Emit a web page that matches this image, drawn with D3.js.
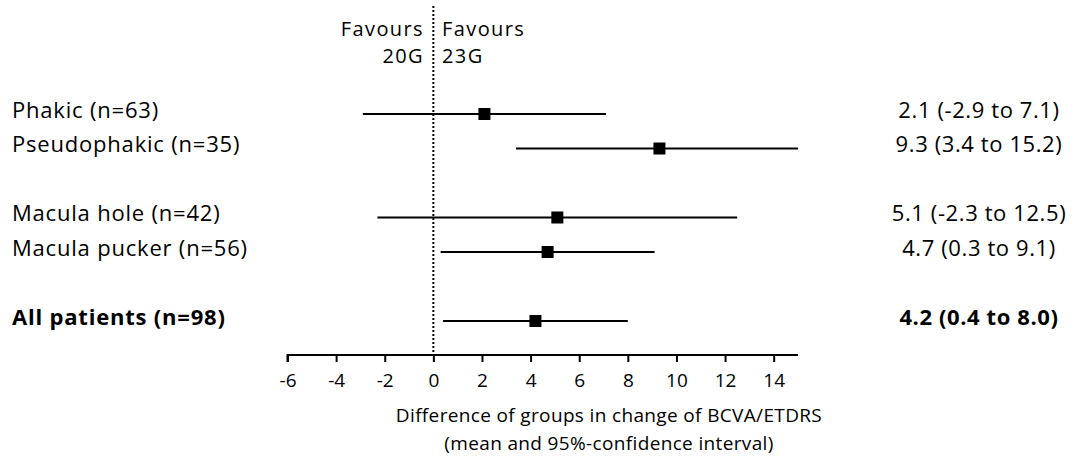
<!DOCTYPE html>
<html><head><meta charset="utf-8">
<script src="https://cdn.jsdelivr.net/npm/d3@7"></script>
<style>body{margin:0;background:#fff;} text{font-family:"Open Sans",sans-serif;fill:#000;}</style>
</head><body><svg id="c" width="1073" height="461"></svg>
<script>
const labels = ["Phakic (n=63)","Pseudophakic (n=35)","Macula hole (n=42)","Macula pucker (n=56)","All patients (n=98)"];
const rowIndex = [0,1,3,4,6];
const means = [2.1,9.3,5.1,4.7,4.2];
const lows = [-2.9,3.4,-2.3,0.3,0.4];
const highs = [7.1,15.2,12.5,9.1,8.0];
const bold = [false,false,false,false,true];
const tickValues = [-6,-4,-2,0,2,4,6,8,10,12,14];
const xTitle = ["Difference of groups in change of BCVA/ETDRS","(mean and 95%-confidence interval)"];
const leftHeader = ["Favours","20G"];
const rightHeader = ["Favours","23G"];

const svg = d3.select("#c");
const x = d3.scaleLinear().domain([-6,15]).range([287.5,798]);
const y = d3.scaleLinear().domain([0,6]).range([114,321]);
const axisY = 355;

// dotted zero line
svg.append("line").attr("x1",x(0)).attr("x2",x(0)).attr("y1",6).attr("y2",axisY)
  .attr("stroke","#000").attr("stroke-width",2).attr("stroke-dasharray","2,2");

// axis
const axis = d3.axisBottom(x).tickValues(tickValues).tickSize(7).tickPadding(12).tickFormat(d3.format("d"));
const g = svg.append("g").attr("transform",`translate(0,${axisY})`).call(axis);
g.select(".domain").attr("stroke","#000").attr("stroke-width",2).attr("d",`M${x(-6)},7V0H${x(15)}`);
g.selectAll(".tick line").attr("stroke","#000").attr("stroke-width",2);
g.selectAll(".tick text").style("font-family","'Open Sans',sans-serif").style("font-size","19px").attr("fill","#000")
  .text(d=>d<0?"-"+Math.abs(d):d);

// x title
svg.selectAll(".xt").data(xTitle).join("text").attr("x",609).attr("y",(d,i)=>422+i*28)
  .attr("text-anchor","middle").style("font-size","19px").style("letter-spacing","0.35px").text(d=>d);

// headers
svg.selectAll(".lh").data(leftHeader).join("text").attr("x",424).attr("y",(d,i)=>36+i*27)
  .attr("text-anchor","end").style("font-size","20px").style("letter-spacing","1.4px").text(d=>d);
svg.selectAll(".rh").data(rightHeader).join("text").attr("x",442).attr("y",(d,i)=>36+i*27)
  .attr("text-anchor","start").style("font-size","20px").style("letter-spacing","1.4px").text(d=>d);

const rows = labels.map((l,i)=>({l,r:rowIndex[i],m:means[i],lo:lows[i],hi:highs[i],b:bold[i]}));

// CI lines
svg.selectAll(".ci").data(rows).join("line")
  .attr("x1",d=>x(d.lo)).attr("x2",d=>x(Math.min(d.hi,15))).attr("y1",d=>y(d.r)).attr("y2",d=>y(d.r))
  .attr("stroke","#000").attr("stroke-width",2);
// squares
svg.selectAll(".sq").data(rows).join("rect")
  .attr("x",d=>x(d.m)-6).attr("y",d=>y(d.r)-6).attr("width",12).attr("height",12).attr("fill","#000");

// labels
svg.selectAll(".lab").data(rows).join("text").attr("x",12).attr("y",d=>y(d.r)+3.5)
  .style("font-size","22px").style("letter-spacing","0.8px").style("font-weight",d=>d.b?"bold":"normal").text(d=>d.l);
svg.selectAll(".val").data(rows).join("text").attr("x",979).attr("y",d=>y(d.r)+3.5)
  .attr("text-anchor","middle").style("font-size","22px").style("letter-spacing","0.6px").style("font-weight",d=>d.b?"bold":"normal")
  .text(d=>`${d.m.toFixed(1)} (${d.lo.toFixed(1)} to ${d.hi.toFixed(1)})`);
</script></body></html>
